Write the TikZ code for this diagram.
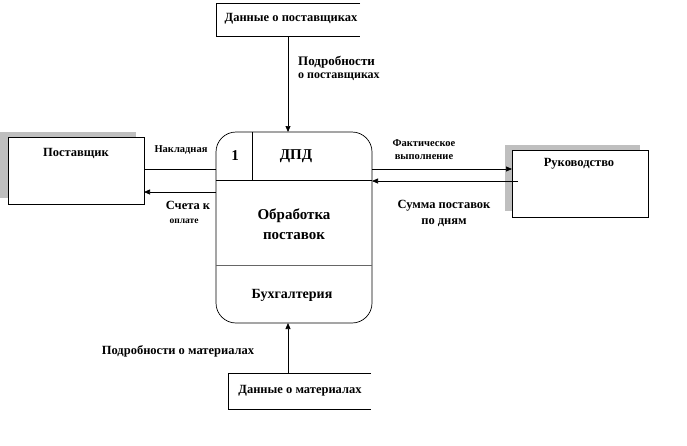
\documentclass[tikz,border=0pt]{standalone}
\usepackage{fontspec}
\setmainfont{Liberation Serif}
\usetikzlibrary{arrows.meta}
\newcommand{\fs}[1]{\fontsize{#1}{#1}\selectfont}
\begin{document}
\begin{tikzpicture}[x=1pt,y=-1pt,
  every node/.style={font=\bfseries, inner sep=0pt},
  lbl/.style={font=\bfseries\fs{12.5}, align=center},
  sml/.style={font=\bfseries\fs{10.5}, align=center},
  flow/.style={line width=0.7pt, -{Triangle[length=6pt,width=5pt]}},
  edge/.style={line width=0.7pt},
  shadowc/.style={fill=black!25, draw=none}]
\useasboundingbox (0,0) rectangle (687,445);
% data store top
\draw[edge] (360,3) -- (216,3) -- (216,36) -- (360,36);
\node[lbl] (dsT) at (291,19) {Данные о поставщиках};
\coordinate (dsTb) at (288,36);
% data store bottom
\draw[edge] (371,373) -- (228,373) -- (228,409) -- (371,409);
\node[lbl] (dsB) at (300,391) {Данные о материалах};
\coordinate (dsBt) at (288,373);
% supplier
\fill[shadowc] (0,132) rectangle (136,198);
\draw[edge, fill=white] (8,137) rectangle (144,204);
\node[lbl] (sup) at (76,153) {Поставщик};
% management
\fill[shadowc] (505,145) rectangle (640,211);
\draw[edge, fill=white] (512,150) rectangle (648,217);
\node[lbl] (man) at (579,164) {Руководство};
% process
\draw[edge, rounded corners=20pt] (216,132) rectangle (372,323);
\draw[edge] (216,180) -- (372,180);
\draw[edge] (252,132) -- (252,180);
\draw[edge, black!60] (216,265) -- (372,265);
\node[font=\bfseries\fs{15}] (num) at (235,156) {1};
\node[font=\bfseries\fs{15}] (dpd) at (296,156) {ДПД};
\node[font=\bfseries\fontsize{15}{20}\selectfont, align=center] (proc) at (294,224) {Обработка\\поставок};
\node[font=\bfseries\fs{14}] (acc) at (292,295) {Бухгалтерия};
\coordinate (pT) at (288,132);
\coordinate (pB) at (288,323);
% flows
\draw[flow] (dsTb) -- (pT);
\node[font=\bfseries\fs{13}, anchor=west] (l1a) at (298,62) {Подробности};
\node[font=\bfseries\fs{12}, anchor=west] (l1b) at (298,77) {о поставщиках};
\draw[flow] (dsBt) -- (pB);
\node[lbl] (l2) at (178,351) {Подробности о материалах};
\draw[edge] (144,169) -- (216,169);
\node[sml] (l3) at (181,150) {Накладная};
\draw[flow] (216,192) -- (144,192);
\node[font=\bfseries\fs{12.5}] (l4a) at (188,205) {Счета к};
\node[font=\bfseries\fs{9.5}] (l4b) at (184,221) {оплате};
\draw[flow] (372,169) -- (512,169);
\node[sml] (l5a) at (424,143) {Фактическое};
\node[sml] (l5b) at (424,157) {выполнение};
\draw[flow] (518,181) -- (372,181);
\node[font=\bfseries\fontsize{12.5}{16}\selectfont, align=center] (l6) at (444,213) {Сумма поставок\\по дням};
\end{tikzpicture}
\end{document}
